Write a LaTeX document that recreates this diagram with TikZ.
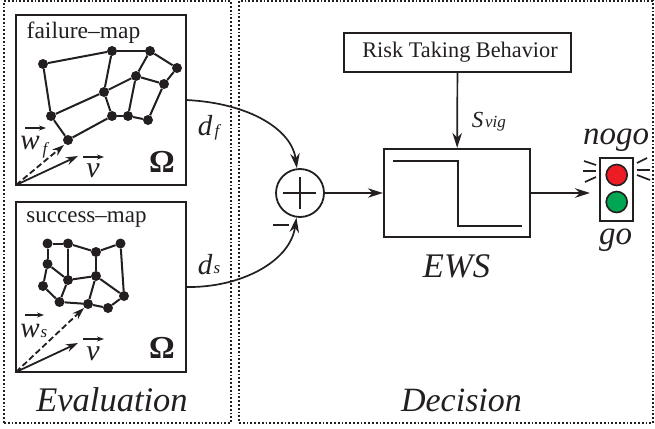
\documentclass[tikz,border=0pt]{standalone}
\usepackage{fontspec}
\setmainfont{Liberation Serif}
\usetikzlibrary{arrows.meta}
\definecolor{ink}{RGB}{35,31,32}
\definecolor{lampr}{RGB}{237,28,36}
\definecolor{lampg}{RGB}{0,166,81}

\begin{document}
\begin{tikzpicture}[
    x=1pt, y=-1pt,
    font=\rmfamily,
    color=ink,
    l/.style={line width=2pt, color=ink},
    a/.style={line width=1.7pt, color=ink, -{Stealth[length=15pt,width=9.5pt]}},
    vec/.style={line width=1.8pt, color=ink, -{Stealth[length=12pt,width=8pt]}},
    o/.style={line width=1.1pt, color=ink, -{Stealth[length=7pt,width=5pt]}},
    box/.style={draw=ink, line width=2.3pt, inner sep=0pt},
    zone/.style={draw=ink, line width=1.8pt, dotted, inner sep=0pt},
    p/.style={circle, fill=ink, inner sep=0pt, minimum size=10pt},
    t/.style={inner sep=0pt, text=ink},
    thick1/.style={line width=2.5pt, color=ink},
    ray/.style={line width=1.7pt, color=ink}
]
    \useasboundingbox (0,0) rectangle (655,428);

    % zones
    \node [zone, minimum width=227pt, minimum height=422pt] (eval) at (117.5,212) {};
    \node [zone, minimum width=414pt, minimum height=422pt] (dec) at (446,212) {};

    % maps
    \node [box, minimum width=170pt, minimum height=170pt] (fmap) at (101,100) {};
    \node [box, minimum width=170pt, minimum height=170pt] (smap) at (101,287) {};

    \node [t, font=\fontsize{23.5}{23.5}\selectfont] (ftxt) at (83.5,33) {failure--map};
    \node [t, font=\fontsize{23}{23}\selectfont] (stxt) at (86.5,220) {success--map};
    \node [t, font=\fontsize{32}{32}\selectfont\bfseries] (fom) at (162,162) {\char"03A9};
    \node [t, font=\fontsize{32}{32}\selectfont\bfseries] (som) at (162,348) {\char"03A9};

    % failure map
    \node [p] (A) at ( 43, 64) {};
    \node [p] (B) at (112, 51) {};
    \node [p] (C) at (150, 51) {};
    \node [p] (D) at (177, 68) {};
    \node [p] (E) at (136, 76) {};
    \node [p] (F) at (164, 84) {};
    \node [p] (G) at (104, 92) {};
    \node [p] (H) at ( 51,116) {};
    \node [p] (I) at (112,116) {};
    \node [p] (J) at (128,116) {};
    \node [p] (K) at (148,120) {};
    \node [p] (L) at ( 68,140) {};

    \draw (A) edge [l] (B);
    \draw (B) edge [l] (C);
    \draw (C) edge [l] (D);
    \draw (D) edge [l] (F);
    \draw (E) edge [l] (F);
    \draw (C) edge [l] (E);
    \draw (A) edge [l] (H);
    \draw (H) edge [l] (L);
    \draw (L) edge [l] (I);
    \draw (H) edge [l] (G);
    \draw (G) edge [l] (E);
    \draw (B) edge [l] (G);
    \draw (G) edge [l] (I);
    \draw (I) edge [l] (J);
    \draw (J) edge [l] (K);
    \draw (E) edge [l] (J);
    \draw (F) edge [l] (K);

    % success map
    \node [p] (a) at ( 47.5,243.5) {};
    \node [p] (b) at ( 68  ,243.5) {};
    \node [p] (c) at ( 96  ,252  ) {};
    \node [p] (d) at (120.5,243.5) {};
    \node [p] (e) at ( 47.5,264  ) {};
    \node [p] (f) at ( 68  ,280  ) {};
    \node [p] (g) at ( 96  ,276  ) {};
    \node [p] (h) at ( 43  ,286  ) {};
    \node [p] (i) at ( 59.5,302  ) {};
    \node [p] (j) at ( 88  ,304  ) {};
    \node [p] (k) at (108  ,308  ) {};
    \node [p] (m) at (124  ,296  ) {};

    \draw (a) edge [l] (b);
    \draw (b) edge [l] (c);
    \draw (c) edge [l] (d);
    \draw (a) edge [l] (e);
    \draw (b) edge [l] (f);
    \draw (e) edge [l] (f);
    \draw (e) edge [l] (h);
    \draw (c) edge [l] (g);
    \draw (f) edge [l] (g);
    \draw (f) edge [l] (i);
    \draw (h) edge [l] (i);
    \draw (i) edge [l] (j);
    \draw (g) edge [l] (j);
    \draw (j) edge [l] (k);
    \draw (k) edge [l] (m);
    \draw (g) edge [l] (m);
    \draw (d) edge [l] (m);

    % vectors
    \coordinate (fo) at (16,185);
    \coordinate (so) at (16,372);
    \coordinate (fv) at (78,156);
    \coordinate (sv) at (78,343);
    \coordinate (fw) at (64,145);
    \coordinate (sw) at (84,308);
    \draw [vec] (fo) -- (fv);
    \draw [vec] (so) -- (sv);
    \draw [vec, dash pattern=on 6pt off 3pt] (fo) -- (fw);
    \draw [vec, dash pattern=on 6pt off 3pt] (so) -- (sw);

    \node [t, font=\fontsize{29}{29}\selectfont\itshape] (fwn) at (30,143) {w};
    \node [t, font=\fontsize{17}{17}\selectfont\itshape] (fws) at (45,150) {f};
    \node [t, font=\fontsize{30}{30}\selectfont\itshape] (fvn) at (93,171) {v};
    \node [t, font=\fontsize{29}{29}\selectfont\itshape] (swn) at (30,331) {w};
    \node [t, font=\fontsize{17}{17}\selectfont\itshape] (sws) at (44,334) {s};
    \node [t, font=\fontsize{30}{30}\selectfont\itshape] (svn) at (93,354) {v};

    % small arrows over the letters
    \coordinate (o1a) at (25,128);
    \coordinate (o1b) at (46,128);
    \coordinate (o2a) at (83,157);
    \coordinate (o2b) at (104,157);
    \coordinate (o3a) at (25,315);
    \coordinate (o3b) at (44,315);
    \coordinate (o4a) at (83,339);
    \coordinate (o4b) at (104,339);
    \draw [o] (o1a) -- (o1b);
    \draw [o] (o2a) -- (o2b);
    \draw [o] (o3a) -- (o3b);
    \draw [o] (o4a) -- (o4b);

    % sum and decision
    \node [circle, draw=ink, line width=1.8pt, minimum size=48pt, inner sep=0pt] (sum) at (300,193) {};
    \node [box, minimum width=146pt, minimum height=88pt] (ews) at (457,193) {};
    \node [box, minimum width=227pt, minimum height=39pt] (risk) at (457.5,52.5) {};
    \node [t, font=\fontsize{22.3}{22.3}\selectfont] (rtxt) at (460,52) {Risk Taking Behavior};
    \node [box, minimum width=33pt, minimum height=63pt] (tl) at (616.5,189.5) {};
    \node [circle, draw=ink, line width=1.6pt, fill=lampr, minimum size=21pt, inner sep=0pt] (red) at (616.7,175) {};
    \node [circle, draw=ink, line width=1.6pt, fill=lampg, minimum size=21pt, inner sep=0pt] (green) at (616.7,202) {};

    \coordinate (pl) at (283,193);
    \coordinate (pr) at (316,193);
    \coordinate (pt) at (300,177);
    \coordinate (pb) at (300,209);
    \coordinate (mi) at (273,225);
    \coordinate (mo) at (289,225);
    \draw [thick1] (pl) -- (pr);
    \draw [thick1] (pt) -- (pb);
    \draw [thick1] (mi) -- (mo);

    \coordinate (s1) at (393,161);
    \coordinate (s2) at (458,161);
    \coordinate (s3) at (458,226);
    \coordinate (s4) at (522,226);
    \draw [thick1] (s1) -- (s2) -- (s3) -- (s4);

    \draw [a] (risk) -- (ews);
    \draw [a] (sum) -- (ews);
    \coordinate (tlin) at (590,193);
    \draw [a] (ews) -- (tlin);
    \coordinate (fout) at (186,100);
    \coordinate (sout) at (186,287);
    \draw [a] (fout) .. controls (250,103) and (292,130) .. (sum);
    \draw [a] (sout) .. controls (240,288) and (290,262) .. (sum);

    % rays
    \coordinate (r1a) at (584,161);
    \coordinate (r1b) at (596,165);
    \coordinate (r2a) at (583,171);
    \coordinate (r2b) at (596,171);
    \coordinate (r3a) at (585,182);
    \coordinate (r3b) at (596,177);
    \coordinate (r4a) at (647,158);
    \coordinate (r4b) at (637,163);
    \coordinate (r5a) at (650,170);
    \coordinate (r5b) at (637,170);
    \coordinate (r6a) at (650,180);
    \coordinate (r6b) at (637,175);
    \draw [ray] (r1a) -- (r1b);
    \draw [ray] (r2a) -- (r2b);
    \draw [ray] (r3a) -- (r3b);
    \draw [ray] (r4a) -- (r4b);
    \draw [ray] (r5a) -- (r5b);
    \draw [ray] (r6a) -- (r6b);

    % labels
    \node [t, font=\fontsize{29}{29}\selectfont\itshape] (df) at (205,126) {d};
    \node [t, font=\fontsize{17}{17}\selectfont\itshape] (dfs) at (217,132) {f};
    \node [t, font=\fontsize{29}{29}\selectfont\itshape] (ds) at (205,265) {d};
    \node [t, font=\fontsize{17}{17}\selectfont\itshape] (dss) at (217,270) {s};
    \node [t, font=\fontsize{23}{23}\selectfont\itshape] (sv1) at (477.5,119.5) {S};
    \node [t, font=\fontsize{17}{17}\selectfont\itshape] (sv2) at (495.5,123.5) {vig};
    \node [t, font=\fontsize{34.5}{34.5}\selectfont\itshape] (ewst) at (456.5,266) {EWS};
    \node [t, font=\fontsize{33}{33}\selectfont\itshape] (nogo) at (616,140) {nogo};
    \node [t, font=\fontsize{33}{33}\selectfont\itshape] (go) at (615.5,240) {go};
    \node [t, font=\fontsize{34.5}{34.5}\selectfont\itshape] (evt) at (112,400) {Evaluation};
    \node [t, font=\fontsize{34}{34}\selectfont\itshape] (dect) at (461.5,400) {Decision};
\end{tikzpicture}
\end{document}
